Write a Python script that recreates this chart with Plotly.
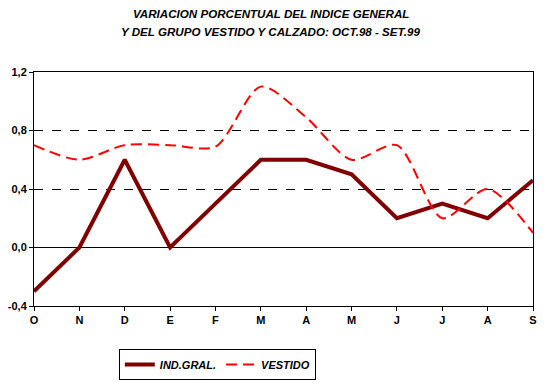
import plotly.graph_objects as go

months = ["O", "N", "D", "E", "F", "M", "A", "M", "J", "J", "A", "S"]
ind_gral = [-0.3, 0.0, 0.6, 0.0, 0.3, 0.6, 0.6, 0.5, 0.2, 0.3, 0.2, 0.46]
vestido = [0.7, 0.6, 0.7, 0.7, 0.69, 1.1, 0.89, 0.6, 0.7, 0.2, 0.4, 0.1]
y_ticks = [-0.4, 0.0, 0.4, 0.8, 1.2]
y_labels = ["-0,4", "0,0", "0,4", "0,8", "1,2"]
title_lines = ["VARIACION PORCENTUAL DEL INDICE GENERAL",
               "Y DEL GRUPO VESTIDO Y CALZADO: OCT.98 - SET.99"]

x = list(range(len(months)))
font = "Liberation Sans, Arial, sans-serif"

fig = go.Figure()
fig.add_trace(go.Scatter(x=x, y=ind_gral, mode="lines", name="<b><i>IND.GRAL.</i></b>",
                         line=dict(color="#800000", width=4)))
fig.add_trace(go.Scatter(x=x, y=vestido, mode="lines", name="<b><i>VESTIDO</i></b>",
                         line=dict(color="#ff0000", width=2, dash="11px,6px", shape="spline", smoothing=0.8)))

for txt, yy in zip(title_lines, [1.248, 1.171]):
    fig.add_annotation(text="<b><i>%s</i></b>" % txt, xref="paper", yref="paper",
                       x=0.474, y=yy, xanchor="center", yanchor="middle", showarrow=False,
                       font=dict(family=font, size=11.6, color="black"))

fig.update_layout(
    width=537, height=375,
    margin=dict(l=26, r=12, t=64, b=77, autoexpand=False),
    paper_bgcolor="white", plot_bgcolor="white",
    font=dict(family=font, size=11, color="black"),
    legend=dict(orientation="h", x=0.17, xanchor="left", y=-0.184, yanchor="top",
                bordercolor="black", borderwidth=1, bgcolor="white",
                font=dict(family=font, size=11, color="black"),
                tracegroupgap=0),
    showlegend=True,
)
fig.update_xaxes(range=[0, 11], tickmode="array", tickvals=x,
                 ticktext=["<b>%s</b>" % m for m in months], automargin=False,
                 showgrid=False, zeroline=False, showline=True, linecolor="black",
                 linewidth=1, mirror=True, ticks="outside", ticklen=4, tickcolor="black")
fig.update_yaxes(range=[-0.4, 1.2], tickmode="array", tickvals=y_ticks,
                 ticktext=["<b>%s</b>" % t for t in y_labels], automargin=False,
                 showgrid=True, gridcolor="black", griddash="dash", gridwidth=1,
                 zeroline=True, zerolinecolor="black", zerolinewidth=1,
                 showline=True, linecolor="black", linewidth=1, mirror=True,
                 ticks="outside", ticklen=4, tickcolor="black")

fig.write_html("out.html")
